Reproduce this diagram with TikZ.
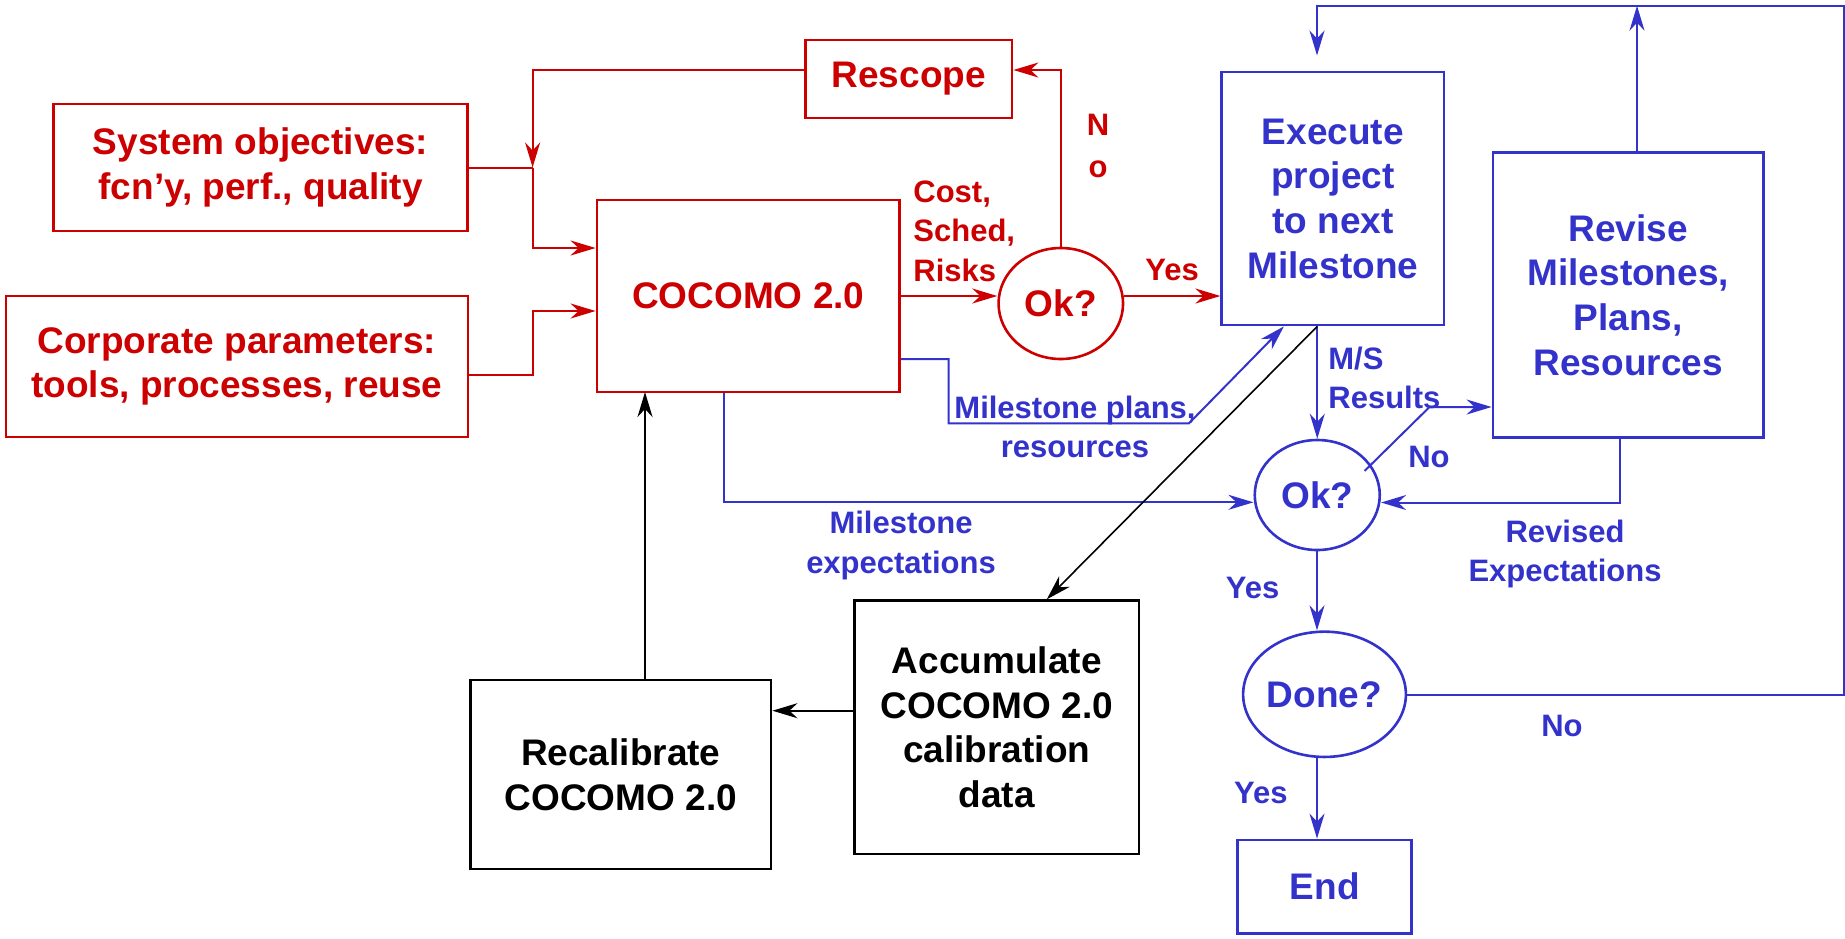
\documentclass[tikz,border=0pt]{standalone}
\usepackage{fontspec}
\setmainfont{Liberation Sans}
\usetikzlibrary{arrows.meta,shapes.geometric}
\definecolor{cred}{RGB}{204,0,0}
\definecolor{cblue}{RGB}{51,51,204}
\begin{document}
\begin{tikzpicture}[x=0.5pt,y=-0.5pt,
  boxfont/.style={font=\fontsize{18.5}{22.35}\selectfont\bfseries},
  lblfont/.style={font=\fontsize{15.5}{19.75}\selectfont\bfseries},
  basebox/.style={rectangle, line width=1.4pt, boxfont, align=center, inner sep=0pt},
  rbox/.style={basebox, draw=cred, text=cred},
  bbox/.style={basebox, draw=cblue, text=cblue},
  kbox/.style={basebox, draw=black, text=black},
  rell/.style={ellipse, draw=cred, text=cred, line width=1.3pt, boxfont, inner sep=0pt},
  bell/.style={ellipse, draw=cblue, text=cblue, line width=1.3pt, boxfont, inner sep=0pt},
  rlbl/.style={lblfont, text=cred, inner sep=0pt},
  blbl/.style={lblfont, text=cblue, inner sep=0pt},
  arr/.style={-{Stealth[length=12.5pt,width=7.5pt,inset=4pt]}},
  rline/.style={draw=cred, line width=1pt},
  bline/.style={draw=cblue, line width=1pt},
  kline/.style={draw=black, line width=1pt},
]
\useasboundingbox (0,0) rectangle (1845,938);

% boxes
\node[rbox, minimum width=207.2pt, minimum height=63.5pt] (sysobj) at (260.6,167.5) {System objectives:\\fcn’y, perf., quality};
\node[rbox, minimum width=231pt, minimum height=70.5pt] (corp) at (236.9,366.5) {Corporate parameters:\\tools, processes, reuse};
\node[rbox, minimum width=151.3pt, minimum height=96pt] (cocomo) at (748.3,296) {COCOMO 2.0};
\node[rbox, minimum width=103.25pt, minimum height=39pt] (rescope) at (908.75,79) {Rescope};
\node[rell, minimum width=62.25pt, minimum height=55.5pt] (ok1) at (1060.8,303.5) {Ok?};
\node[bbox, minimum width=111.1pt, minimum height=126.5pt] (execute) at (1332.9,198.5) {Execute\\project\\to next\\Milestone};
\node[bbox, minimum width=135.25pt, minimum height=142.6pt] (revise) at (1628.25,294.9) {Revise\\Milestones,\\Plans,\\Resources};
\node[bell, minimum width=62.5pt, minimum height=55pt] (ok2) at (1317.25,495) {Ok?};
\node[bell, minimum width=70.5pt, minimum height=62.65pt] (done) at (1324.5,694.3) {Done?};
\node[bbox, minimum width=86.85pt, minimum height=46.65pt] (endb) at (1324.65,886.65) {End};
\node[kbox, minimum width=150.25pt, minimum height=94.5pt] (recal) at (620.75,774.5) {Recalibrate\\COCOMO 2.0};
\node[kbox, minimum width=142.2pt, minimum height=126.65pt] (accum) at (996.8,727.35) {Accumulate\\COCOMO 2.0\\calibration\\data};

% labels
\node[rlbl, anchor=west, align=left] (csr) at (913,231) {Cost,\\Sched,\\Risks};
\node[rlbl, align=center] (nolbl1) at (1098,146) {N\\[1pt]o};
\node[rlbl] (yes1) at (1172,270) {Yes};
\node[blbl, align=center] (mpr) at (1075,427) {Milestone plans,\\resources};
\node[blbl, align=center] (mexp) at (901,545.5) {Milestone\\expectations};
\node[blbl, anchor=west, align=left] (msr) at (1328,378) {M/S\\Results};
\node[blbl] (no2) at (1429,457) {No};
\node[blbl, align=center] (rexp) at (1565,554) {Revised\\Expectations};
\node[blbl] (yes2) at (1252.7,587.5) {Yes};
\node[blbl] (yes3) at (1260.8,792.7) {Yes};
\node[blbl] (no3) at (1562,726) {No};

% coordinates
\coordinate (jtop) at (532.6,70);
\coordinate (jsys) at (532.6,167.5);
\coordinate (jin1) at (532.6,248);
\coordinate (jin2) at (532.6,311);
\coordinate (jcorp) at (532.6,375);
\coordinate (b1) at (948.6,359);
\coordinate (b2) at (948.6,423.3);
\coordinate (b3) at (1189,423.3);
\coordinate (nstart) at (1364.5,471);
\coordinate (nbend) at (1429.5,407);
\coordinate (rv) at (1620,502.5);
\coordinate (me) at (724.4,502.3);
\coordinate (tr1) at (1843.7,695);
\coordinate (tr2) at (1843.7,5.7);
\coordinate (tl) at (1317,5.7);
\coordinate (ttip) at (1317,55.5);
\coordinate (rt) at (1637,5.7);
\coordinate (ar) at (854.6,710.7);
\coordinate (rc) at (645,392);

% red connectors
\draw[rline, arr] (rescope.west |- jtop) -- (jtop) -- (jsys);
\draw[rline] (sysobj.east) -- (jsys);
\draw[rline, arr] (jsys) -- (jin1) -- (cocomo.west |- jin1);
\draw[rline, arr] (corp.east |- jcorp) -- (jcorp) -- (jin2) -- (cocomo.west |- jin2);
\draw[rline, arr] (cocomo.east) -- (ok1.west |- cocomo.east);
\draw[rline, arr] (ok1.east |- cocomo.east) -- (execute.west |- cocomo.east);
\draw[rline, arr] (ok1.north) -- (ok1.north |- jtop) -- (rescope.east |- jtop);

% blue connectors
\draw[bline, arr] (cocomo.east |- b1) -- (b1) -- (b2) -- (b3) -- ([xshift=-24.5pt]execute.south);
\draw[bline, arr] (ok2.north |- execute.south) -- (ok2.north);
\draw[bline, arr] (nstart) -- (nbend) -- (revise.west |- nbend);
\draw[bline, arr] (revise.south -| rv) -- (rv) -- (ok2.east |- rv);
\draw[bline, arr] (cocomo.south -| me) -- (me) -- (ok2.west |- me);
\draw[bline, arr] (ok2.south -| tl) -- (done.north -| tl);
\draw[bline, arr] (done.south -| tl) -- (endb.north -| tl);
\draw[bline, arr] (done.east |- tr1) -- (tr1) -- (tr2) -- (tl) -- (ttip);
\draw[bline, arr] (revise.north -| rt) -- (rt);

% black connectors
\draw[kline, line width=0.8pt, arr] (ok2.north |- execute.south) -- ([xshift=25pt]accum.north);
\draw[kline, arr] (ar) -- (recal.east |- ar);
\draw[kline, arr] (recal.north -| rc) -- (rc);
\end{tikzpicture}
\end{document}
